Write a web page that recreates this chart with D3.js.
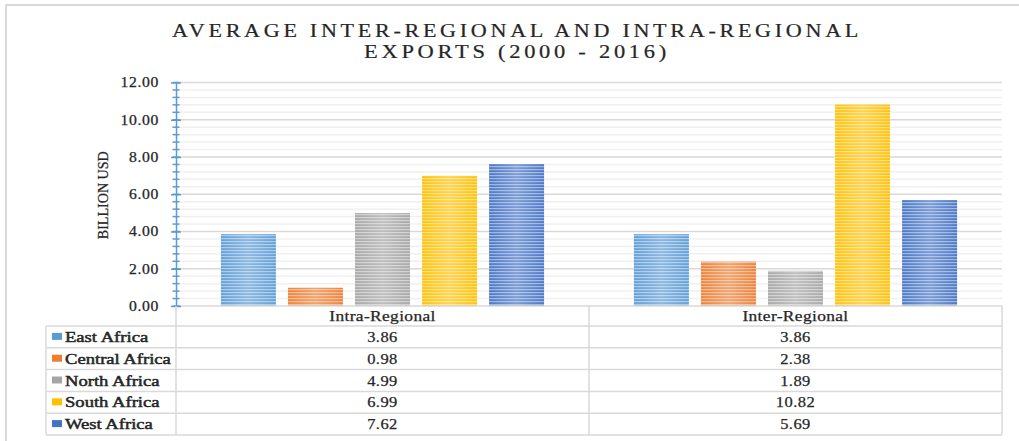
<!DOCTYPE html>
<html>
<head>
<meta charset="utf-8">
<script src="https://cdn.jsdelivr.net/npm/d3@7"></script>
<style>
html,body{margin:0;padding:0;background:#fff;}
svg{display:block;}
</style>
</head>
<body>
<svg id="chart" width="1019" height="441"></svg>
<script>
const categories = ["Intra-Regional", "Inter-Regional"];
const regions = ["East Africa", "Central Africa", "North Africa", "South Africa", "West Africa"];
const intraValues = [3.86, 0.98, 4.99, 6.99, 7.62];
const interValues = [3.86, 2.38, 1.89, 10.82, 5.69];
const yTickValues = [0, 2, 4, 6, 8, 10, 12];
const regionColors = ["#5b9bd5", "#ed7d31", "#a5a5a5", "#ffc000", "#4472c4"];
const titleLines = ["AVERAGE INTER-REGIONAL AND INTRA-REGIONAL", "EXPORTS (2000 - 2016)"];
const yAxisTitle = "BILLION USD";

const seriesByCategory = [intraValues, interValues];
const SERIF = "'Liberation Serif', 'DejaVu Serif', serif";

const svg = d3.select("#chart");
const defs = svg.append("defs");

svg.append("rect").attr("x", 6).attr("y", 5).attr("width", 1030).attr("height", 450)
  .attr("fill", "#fff").attr("stroke", "#d9d9d9").attr("stroke-width", 2);

const plotLeft = 176, plotRight = 1002, plotTop = 82.5, plotBottom = 306;

const y = d3.scaleLinear().domain([0, 12]).range([plotBottom, plotTop]);
const x0 = d3.scaleBand().domain(categories).range([plotLeft, plotRight]);
const x1 = d3.scaleBand().domain(regions).range([0, x0.bandwidth()])
  .paddingInner(0.18).paddingOuter(0.67);
const color = d3.scaleOrdinal().domain(regions).range(regionColors);

regions.forEach((r, i) => {
  const p = defs.append("pattern").attr("id", "pat" + i)
    .attr("patternUnits", "userSpaceOnUse").attr("width", 8).attr("height", 3);
  p.append("rect").attr("width", 8).attr("height", 3).attr("fill", color(r));
  p.append("rect").attr("y", 1).attr("width", 8).attr("height", 1.2).attr("fill", "#fff").attr("opacity", 0.45);
});
const glow = defs.append("linearGradient").attr("id", "glow").attr("x1", 0).attr("x2", 1).attr("y1", 0).attr("y2", 0);
glow.append("stop").attr("offset", "0%").attr("stop-color", "#fff").attr("stop-opacity", 0.05);
glow.append("stop").attr("offset", "50%").attr("stop-color", "#fff").attr("stop-opacity", 0.3);
glow.append("stop").attr("offset", "100%").attr("stop-color", "#fff").attr("stop-opacity", 0.05);

function txt(sel, heavy) {
  sel.style("font-family", SERIF).style("fill", "#262626");
  if (heavy) sel.style("stroke", "#262626").style("stroke-width", heavy);
  return sel;
}
function widen(sel, factor) {
  sel.each(function() {
    const w = this.getComputedTextLength();
    d3.select(this).attr("textLength", w * factor).attr("lengthAdjust", "spacingAndGlyphs");
  });
  return sel;
}

titleLines.forEach((t, i) => {
  svg.append("text").attr("x", 517).attr("y", 37 + i * 21)
    .attr("text-anchor", "middle").attr("font-size", 18).attr("letter-spacing", 3)
    .call(txt, 0.2).text(t)
    .attr("textLength", i === 0 ? 690 : 306).attr("lengthAdjust", "spacingAndGlyphs");
});

const minorTicks = d3.range(0, 12.001, 0.4);
svg.append("g").selectAll("line").data(minorTicks.filter(v => Math.abs(v / 2 - Math.round(v / 2)) > 0.01))
  .join("line").attr("x1", plotLeft).attr("x2", plotRight)
  .attr("y1", d => y(d)).attr("y2", d => y(d))
  .attr("stroke", "#f0f0f0").attr("stroke-width", 1.5);
svg.append("g").selectAll("line").data(yTickValues.filter(v => v > 0))
  .join("line").attr("x1", plotLeft).attr("x2", plotRight)
  .attr("y1", d => y(d)).attr("y2", d => y(d))
  .attr("stroke", "#d9d9d9").attr("stroke-width", 1.5);

const groups = svg.append("g").selectAll("g").data(categories).join("g")
  .attr("transform", d => `translate(${x0(d)},0)`);
groups.each(function(cat, ci) {
  const g = d3.select(this);
  const vals = seriesByCategory[ci];
  regions.forEach((r, i) => {
    const bx = x1(r), by = y(vals[i]), bw = x1.bandwidth(), bh = y(0) - y(vals[i]);
    g.append("rect").attr("x", bx).attr("y", by).attr("width", bw).attr("height", bh)
      .attr("fill", `url(#pat${i})`);
    g.append("rect").attr("x", bx).attr("y", by).attr("width", bw).attr("height", bh)
      .attr("fill", "url(#glow)");
  });
});

svg.append("line").attr("x1", plotLeft).attr("x2", plotRight).attr("y1", plotBottom).attr("y2", plotBottom)
  .attr("stroke", "#d9d9d9").attr("stroke-width", 1.5);

const yAxis = d3.axisLeft(y).tickValues(yTickValues).tickFormat(d3.format(".2f"))
  .tickSizeInner(5).tickSizeOuter(0).tickPadding(12);
const ag = svg.append("g").attr("transform", `translate(${plotLeft},0)`).call(yAxis);
ag.select(".domain").attr("stroke", "#5b9bd5").attr("stroke-width", 1.5);
ag.selectAll(".tick line").attr("stroke", "#5b9bd5").attr("stroke-width", 1.5).attr("x2", -5).attr("x1", 5);
ag.selectAll(".tick text").call(txt, 0.25).attr("font-size", 14).attr("letter-spacing", 0.6).call(widen, 1.12);
ag.append("g").selectAll("line").data(minorTicks).join("line")
  .attr("x1", -3.5).attr("x2", 3.5).attr("y1", d => y(d)).attr("y2", d => y(d))
  .attr("stroke", "#5b9bd5").attr("stroke-width", 1.5);

svg.append("text").attr("transform", `translate(108,${(plotTop + plotBottom) / 2 + 1}) rotate(-90)`)
  .attr("text-anchor", "middle").attr("font-size", 15)
  .attr("textLength", 88).attr("lengthAdjust", "spacingAndGlyphs").call(txt, 0.25).text(yAxisTitle);

const tableLeft = 46, tableTop = 326, tableBottom = 435;
const rowScale = d3.scaleBand().domain(regions).range([tableTop, tableBottom]);
const tg = svg.append("g");
const lineStyle = sel => sel.attr("stroke", "#d9d9d9").attr("stroke-width", 1.5);
const hLines = [tableTop].concat(regions.map(r => rowScale(r) + rowScale.bandwidth()));
tg.selectAll("line.h").data(hLines).join("line").attr("class", "h")
  .attr("x1", tableLeft).attr("x2", plotRight).attr("y1", d => d).attr("y2", d => d).call(lineStyle);
tg.append("line").attr("x1", tableLeft).attr("x2", tableLeft).attr("y1", tableTop).attr("y2", tableBottom).call(lineStyle);
[plotLeft, x0(categories[1]), plotRight].forEach(xv => {
  tg.append("line").attr("x1", xv).attr("x2", xv).attr("y1", plotBottom).attr("y2", tableBottom).call(lineStyle);
});
categories.forEach(c => {
  tg.append("text").attr("x", x0(c) + x0.bandwidth() / 2).attr("y", (plotBottom + tableTop) / 2 + 5)
    .attr("text-anchor", "middle").attr("font-size", 14.5).attr("letter-spacing", 0.3)
    .call(txt, 0.25).text(c).call(widen, 1.2);
});
regions.forEach((r, i) => {
  const cy = rowScale(r) + rowScale.bandwidth() / 2;
  tg.append("rect").attr("x", 52).attr("y", cy - 4).attr("width", 10).attr("height", 7).attr("fill", color(r));
  tg.append("text").attr("x", 65).attr("y", cy + 5).attr("font-size", 15)
    .call(txt, 0.5).text(r).call(widen, 1.24);
  categories.forEach((c, ci) => {
    tg.append("text").attr("x", x0(c) + x0.bandwidth() / 2).attr("y", cy + 5)
      .attr("text-anchor", "middle").attr("font-size", 15).attr("letter-spacing", 0.4)
      .call(txt, 0.25).text(d3.format(".2f")(seriesByCategory[ci][i])).call(widen, 1.1);
  });
});
</script>
</body>
</html>
